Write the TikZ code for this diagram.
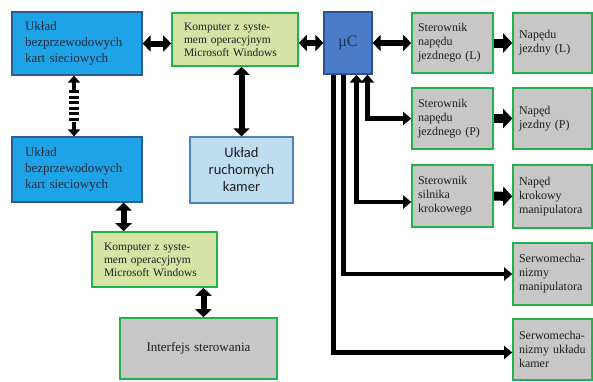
\documentclass[tikz,border=0pt]{standalone}
\usepackage{fontspec}
\setmainfont{Liberation Serif}
\newfontfamily\kamfont{Carlito}
\usetikzlibrary{arrows.meta}

\definecolor{kartblue}{RGB}{30,163,230}
\definecolor{kartedge}{RGB}{46,90,150}
\definecolor{mcblue}{RGB}{74,124,199}
\definecolor{mcedge}{RGB}{47,82,143}
\definecolor{pcgreen}{RGB}{214,227,164}
\definecolor{edgegreen}{RGB}{34,177,76}
\definecolor{boxgray}{RGB}{199,199,199}
\definecolor{kamblue}{RGB}{190,222,240}
\definecolor{kamedge}{RGB}{79,129,189}
\definecolor{txt}{RGB}{30,30,35}

\begin{document}
\begin{tikzpicture}[
                x=1pt, y=-1pt,
                kartbox/.style={draw=kartedge, fill=kartblue, line width=1.2pt, align=left, inner xsep=13pt,
                    text=txt!80!kartedge, font=\fontsize{13}{16}\selectfont},
                pcbox/.style={draw=edgegreen, fill=pcgreen, line width=1.6pt, align=left, inner xsep=12pt,
                    text=txt, font=\fontsize{11.5}{13}\selectfont},
                grbox/.style={draw=edgegreen, fill=boxgray, line width=1.6pt, align=left, inner xsep=6pt,
                    text=txt, font=\fontsize{12}{14}\selectfont},
                biarrow/.style={line width=6pt, {Triangle[length=8pt,width=16pt]}-{Triangle[length=8pt,width=16pt]}},
                blockarrow/.style={line width=9pt, -{Triangle[length=9pt,width=19pt]}},
                busline/.style={line width=4.5pt, -{Triangle[length=8pt,width=13pt]}},
                busboth/.style={line width=4.5pt, {Triangle[length=8pt,width=13pt]}-{Triangle[length=8pt,width=13pt]}}]

            \useasboundingbox (0,0) rectangle (593,381);

            % Bloki
            \node[kartbox, text width=104pt, minimum height=63pt] (ukl1) at (77,43.5)
                {Układ\\bezprzewodowych\\kart sieciowych};
            \node[pcbox, text width=102pt, minimum height=53pt] (komp1) at (235,39.5)
                {Komputer z syste-\\mem operacyjnym\\Microsoft Windows};
            \node[draw=mcedge, fill=mcblue, line width=1.2pt, minimum width=48pt, minimum height=62pt,
                text=mcedge!60!black, font=\fontsize{16}{18}\selectfont] (muc) at (348,43) {μC};
            \node[grbox, text width=69pt, minimum height=60pt] (sterL) at (452.5,43)
                {Sterownik\\napędu\\jezdnego (L)};
            \node[grbox, text width=67pt, minimum height=60pt] (napL) at (552.5,43)
                {Napędu\\jezdny (L)};
            \node[grbox, text width=69pt, minimum height=61pt] (sterP) at (452.5,118.5)
                {Sterownik\\napędu\\jezdnego (P)};
            \node[grbox, text width=67pt, minimum height=61pt] (napP) at (552.5,118.5)
                {Napęd\\jezdny (P)};
            \node[grbox, text width=69pt, minimum height=62pt] (sterK) at (452.5,196)
                {Sterownik\\silnika\\krokowego};
            \node[grbox, text width=67pt, minimum height=63pt] (napK) at (552.5,196.5)
                {Napęd\\krokowy\\manipulatora};
            \node[grbox, text width=67pt, minimum height=62pt] (serwoM) at (552.5,274)
                {Serwomecha-\\nizmy\\manipulatora};
            \node[grbox, text width=67pt, minimum height=61pt] (serwoK) at (552.5,349.5)
                {Serwomecha-\\nizmy układu\\kamer};
            \node[kartbox, text width=104pt, minimum height=65pt] (ukl2) at (77,169.5)
                {Układ\\bezprzewodowych\\kart sieciowych};
            \node[draw=kamedge, fill=kamblue, line width=1.2pt, align=center, minimum width=103pt,
                minimum height=66pt, text=txt, font=\kamfont\fontsize{14.5}{17}\selectfont] (kamery) at (241.5,170)
                {Układ\\ruchomych\\kamer};
            \node[pcbox, text width=101pt, minimum height=55pt] (komp2) at (154.5,259.5)
                {Komputer z syste-\\mem operacyjnym\\Microsoft Windows};
            \node[grbox, align=center, text width=145pt, minimum height=61pt,
                font=\fontsize{13}{15}\selectfont] (interf) at (198.5,348.5) {Interfejs sterowania};

            % Polaczenia
            \draw[biarrow] (ukl1.east) -- (ukl1.east -| komp1.west);
            \draw[biarrow] (muc.west) -- (muc.west -| komp1.east);
            \draw[biarrow] (muc.east) -- (sterL.west);
            \draw[biarrow] (kamery.north) -- (kamery.north |- komp1.south);
            \draw[biarrow] ([xshift=-19pt]ukl2.south east) -- ([xshift=-19pt]ukl2.south east |- komp2.north);
            \draw[biarrow] ([xshift=5pt]interf.north) -- ([xshift=5pt]interf.north |- komp2.south);

            % lacze bezprzewodowe
            \draw[line width=4pt, {Triangle[length=7pt,width=12pt]}-{Triangle[length=7pt,width=12pt]}]
                ([xshift=-3pt]ukl1.south) -- ([xshift=-3pt]ukl2.north)
                coordinate[pos=0.24] (w1) coordinate[pos=0.76] (w2);
            \draw[white, line width=12pt] (w1) -- (w2);
            \draw[line width=10pt, dash pattern=on 3pt off 2.5pt] (w1) -- (w2);

            \draw[blockarrow] (sterL) -- (napL);
            \draw[blockarrow] (sterP) -- (napP);
            \draw[blockarrow] (sterK) -- (napK);

            % magistrala uC
            \draw[busboth] ([xshift=44pt]muc.south west) |- (sterP.west);
            \draw[busboth] ([xshift=33pt]muc.south west) |- ([yshift=-6pt]sterK.west);
            \draw[busline] ([xshift=20pt]muc.south west) |- (serwoM.west);
            \draw[busline] ([xshift=10pt]muc.south west) |- ([yshift=-3pt]serwoK.west);

        \end{tikzpicture}
\end{document}
